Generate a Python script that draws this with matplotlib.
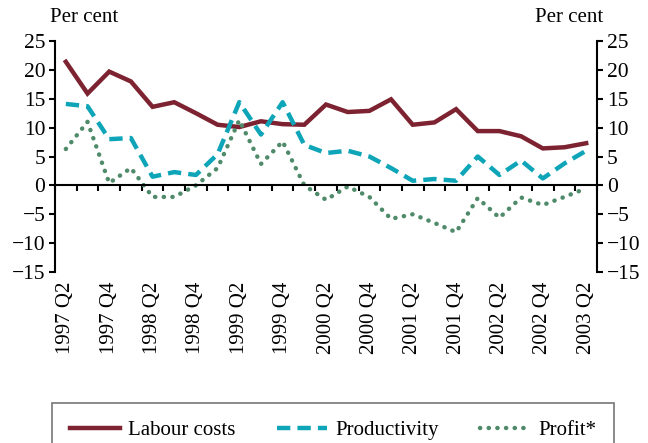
import matplotlib.pyplot as plt
import numpy as np

# quarters 1997 Q2 .. 2003 Q2
quarters = ['1997 Q2', '1997 Q3', '1997 Q4', '1998 Q1', '1998 Q2', '1998 Q3', '1998 Q4',
            '1999 Q1', '1999 Q2', '1999 Q3', '1999 Q4', '2000 Q1', '2000 Q2', '2000 Q3',
            '2000 Q4', '2001 Q1', '2001 Q2', '2001 Q3', '2001 Q4', '2002 Q1', '2002 Q2',
            '2002 Q3', '2002 Q4', '2003 Q1', '2003 Q2']
labour = [21.4, 15.9, 19.7, 18.0, 13.6, 14.4, 12.5, 10.5, 10.1, 11.1, 10.6, 10.5, 14.0,
          12.7, 12.9, 14.9, 10.5, 10.9, 13.2, 9.4, 9.4, 8.5, 6.4, 6.6, 7.3]
productivity = [14.1, 13.7, 8.0, 8.2, 1.5, 2.3, 1.8, 5.4, 14.4, 8.8, 14.4, 7.0, 5.6,
                6.0, 5.0, 3.0, 0.8, 1.1, 0.8, 5.0, 1.8, 4.3, 1.2, 3.8, 6.0]
profit = [6.3, 11.0, 0.4, 3.0, -2.0, -2.0, 0.0, 3.0, 11.3, 3.7, 7.6, 0.0, -2.5,
          -0.2, -2.0, -5.8, -5.0, -6.5, -8.1, -2.2, -5.6, -2.1, -3.4, -2.0, -0.5]
yticks = [-15, -10, -5, 0, 5, 10, 15, 20, 25]

plt.rcParams['font.family'] = 'Liberation Serif'
plt.rcParams['font.size'] = 15

fig = plt.figure(figsize=(6.48, 4.43), dpi=100)
ax = fig.add_axes([55 / 648, 1 - 272 / 443, 542 / 648, 231 / 443])

x = np.arange(len(quarters))
ax.plot(x, labour, color='#7d2230', lw=3.2, solid_joinstyle='miter', label='Labour costs')
ax.plot(x, productivity, color='#0ea5b8', lw=3.2, dashes=(3.0, 1.6), label='Productivity')
ax.plot(x, profit, color='#4f8a6a', lw=3.2, linestyle=(0, (0.05, 1.9)),
        dash_capstyle='round', label='Profit*')

ax.set_xlim(-0.5, len(quarters) - 0.5)
ax.set_ylim(-15, 25)
ax.set_yticks(yticks)
ax.set_yticklabels([str(v).replace('-', '\u2212') for v in yticks], fontsize=15.5)
ax.tick_params(axis='y', direction='out', length=4, width=1.5, left=True, right=True,
               labelleft=True, labelright=True, pad=3)

# zero line with category boundary ticks
ax.spines['top'].set_visible(False)
ax.spines['bottom'].set_position(('data', 0))
for s in ['left', 'right', 'bottom']:
    ax.spines[s].set_linewidth(1.5)
ax.set_xticks(np.arange(-0.5, len(quarters), 1.0))
ax.set_xticklabels([])
ax.tick_params(axis='x', direction='out', length=4, width=1.5)

# quarter labels below the plot
sec = ax.secondary_xaxis('bottom')
sec.spines['bottom'].set_visible(False)
sec.set_xticks(x[::2])
sec.set_xticklabels(quarters[::2], rotation=90)
sec.tick_params(length=0, pad=7)

fig.text(50 / 648, 1 - 18 / 443, 'Per cent', ha='left', va='center')
fig.text(603 / 648, 1 - 18 / 443, 'Per cent', ha='right', va='center')

leg = fig.legend(loc='upper left', ncol=3, mode='expand', borderaxespad=0,
                 bbox_to_anchor=(52 / 648, -0.2, 562 / 648, 1 - 403 / 443 + 0.2),
                 frameon=True, fancybox=False, handlelength=2.4, borderpad=0.85,
                 handletextpad=0.4, columnspacing=2.0)
leg.get_frame().set_edgecolor('#555555')
leg.get_frame().set_linewidth(1.2)

fig.savefig('out.png', dpi=100)
